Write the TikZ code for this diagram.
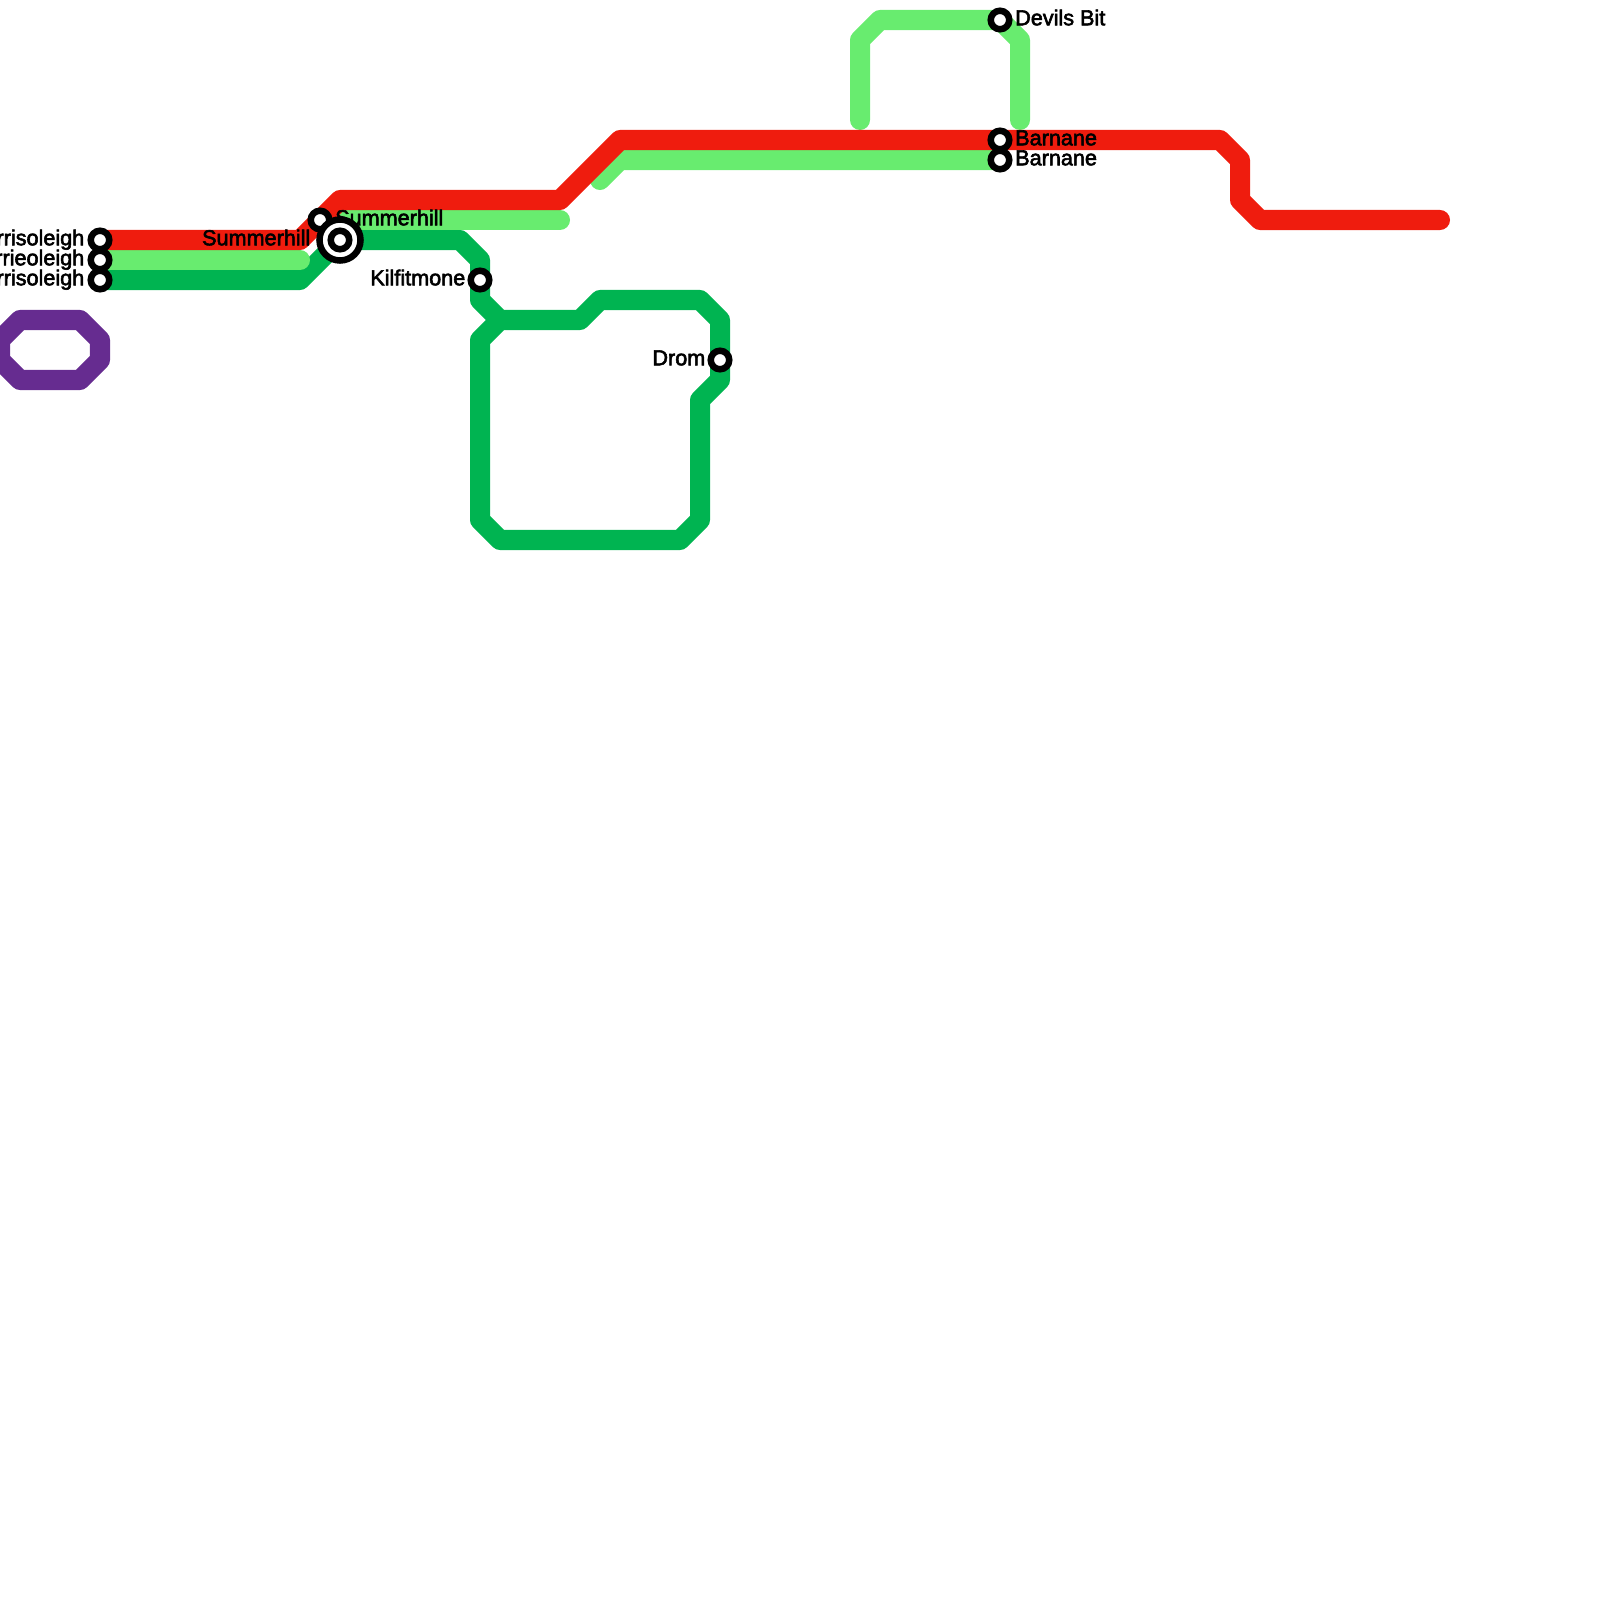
\documentclass[tikz,border=0pt]{standalone}
\usepackage{fontspec}
\setmainfont{Liberation Sans}
\newfontfamily\lblfont[FakeBold=2.6]{Liberation Sans}
\usetikzlibrary{positioning}
\definecolor{redline}{HTML}{EF1C0E}
\definecolor{lightline}{HTML}{68EC6F}
\definecolor{darkline}{HTML}{00B451}
\definecolor{purpleline}{HTML}{662C90}
\tikzset{
	rail/.style={line width=0.2cm, line join=round, line cap=round},
	stn/.style={circle, draw=black, fill=white, line width=0.065cm, outer sep=0pt, minimum size=0.185cm, inner sep=0pt},
	bigstn/.style={stn, minimum size=0.41cm},
	lbl/.style={font=\lblfont\fontsize{6.15pt}{7pt}\selectfont, inner sep=0pt, text height=4.2pt, text depth=1.2pt},
}
\begin{document}
\begin{tikzpicture}[x=0.01cm,y=-0.01cm]
	\useasboundingbox (0,0) rectangle (1600,1600);
	%stations
	\coordinate (borrisA) at (100,240);
	\coordinate (borrieB) at (100,260);
	\coordinate (borrisC) at (100,280);
	\coordinate (summerA) at (320,220);
	\coordinate (summerB) at (340,240);
	\coordinate (kilfit) at (480,280);
	\coordinate (drom) at (720,360);
	\coordinate (devils) at (1000,20);
	\coordinate (barnA) at (1000,140);
	\coordinate (barnB) at (1000,160);
	%lines
	\draw [rail, color=purpleline] (20,320) -- (80,320) -- (100,340) -- (100,360) -- (80,380) -- (20,380) -- (0,360) -- (0,340) -- cycle;
	\draw [rail, color=darkline] (borrisC) -- (300,280) -- (summerB) -- (460,240) -- (480,260) -- (kilfit) -- (480,300) -- (500,320) -- (580,320) -- (600,300) -- (700,300) -- (720,320) -- (drom) -- (720,380) -- (700,400) -- (700,520) -- (680,540) -- (500,540) -- (480,520) -- (480,340) -- (500,320);
	\draw [rail, color=lightline] (borrieB) -- (300,260);
	\draw [rail, color=lightline] (summerA) -- (560,220);
	\draw [rail, color=lightline] (600,180) -- (620,160) -- (barnB);
	\draw [rail, color=lightline] (860,120) -- (860,40) -- (880,20) -- (devils) -- (1020,40) -- (1020,120);
	\draw [rail, color=redline] (borrisA) -- (300,240) -- (340,200) -- (560,200) -- (620,140) -- (barnA) -- (1220,140) -- (1240,160) -- (1240,200) -- (1260,220) -- (1440,220);
	%labels and rings
	\node [stn] (nBorrisA) at (borrisA) {};
	\node [stn] (nBorrieB) at (borrieB) {};
	\node [stn] (nBorrisC) at (borrisC) {};
	\node [lbl, left=0.15cm of borrisA] (lBorrisA) {rrisoleigh};
	\node [lbl, left=0.15cm of borrieB] (lBorrieB) {rrieoleigh};
	\node [lbl, left=0.15cm of borrisC] (lBorrisC) {rrisoleigh};
	\node [stn] (nSummerA) at (summerA) {};
	\node [lbl, right=0.145cm of summerA] (lSummerA) {Summerhill};
	\node [lbl, left=0.29cm of summerB] (lSummerB) {Summerhill};
	%the big one
	\node [bigstn] (nSummerOut) at (summerB) {};
	\node [stn] (nSummerB) at (summerB) {};
	\node [stn] (nKilfit) at (kilfit) {};
	\node [lbl, left=0.14cm of kilfit] (lKilfit) {Kilfitmone};
	\node [stn] (nDrom) at (drom) {};
	\node [lbl, left=0.14cm of drom] (lDrom) {Drom};
	\node [stn] (nDevils) at (devils) {};
	\node [lbl, right=0.145cm of devils] (lDevils) {Devils Bit};
	\node [stn] (nBarnA) at (barnA) {};
	\node [lbl, right=0.145cm of barnA] (lBarnA) {Barnane};
	\node [stn] (nBarnB) at (barnB) {};
	\node [lbl, right=0.145cm of barnB] (lBarnB) {Barnane};
\end{tikzpicture}
\end{document}
